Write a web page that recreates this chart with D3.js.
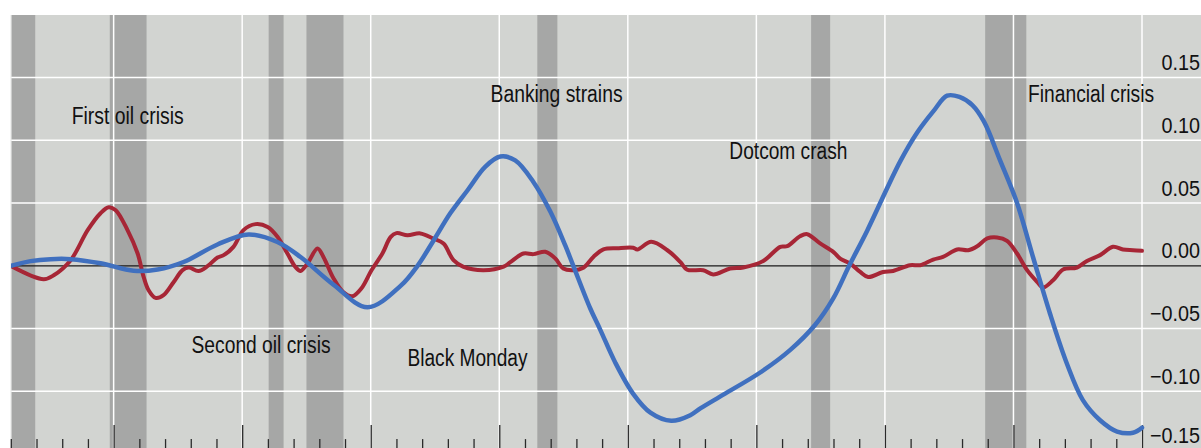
<!DOCTYPE html>
<html>
<head>
<meta charset="utf-8">
<script src="https://cdn.jsdelivr.net/npm/d3@7"></script>
<style>
  html, body { margin: 0; padding: 0; background: #fff; }
  svg { display: block; }
  text { font-family: "Liberation Sans", Arial, Helvetica, sans-serif; fill: #111; }
</style>
</head>
<body>
<svg id="chart" width="1201" height="448"></svg>
<script>
// ---------------- DATA ----------------
// Financial cycle (blue)
const finYears = [1970.0, 1970.77, 1971.55, 1972.33, 1973.49, 1974.78, 1975.71, 1976.72, 1978.04, 1979.25,
  1980.37, 1981.27, 1982.55, 1983.87, 1985.16, 1985.82, 1986.44, 1987.10, 1987.76, 1988.46,
  1989.04, 1989.62, 1990.32, 1990.99, 1991.57, 1991.88, 1992.54, 1992.93, 1993.51, 1994.21,
  1994.88, 1995.69, 1996.43, 1996.82, 1997.60, 1999.15, 2000.32, 2001.29, 2001.99, 2002.61,
  2003.31, 2004.59, 2005.25, 2005.88, 2006.42, 2006.90, 2007.40, 2007.85, 2008.48, 2009.14,
  2009.76, 2010.42, 2011.08, 2011.70, 2012.37, 2013.03, 2013.65, 2014.0];
const finValues = [0.000, 0.0037, 0.0053, 0.0053, 0.0020, -0.0040, -0.0030, 0.0030, 0.0170, 0.0250,
  0.0190, 0.0070, -0.0150, -0.0330, -0.0160, 0.0000, 0.0200, 0.0420, 0.0600, 0.0790,
  0.0870, 0.0840, 0.0670, 0.0430, 0.0160, 0.0000, -0.0340, -0.0510, -0.0770, -0.1020,
  -0.1170, -0.1235, -0.1190, -0.1136, -0.1040, -0.0850, -0.0670, -0.0470, -0.0260, 0.0000,
  0.0280, 0.0830, 0.1060, 0.1230, 0.1355, 0.1345, 0.1280, 0.1150, 0.0840, 0.0500,
  0.0070, -0.0380, -0.0780, -0.1070, -0.1230, -0.1320, -0.1330, -0.1290];

// Business cycle (red)
const busYears = [1970.0, 1971.28, 1971.67, 1972.33, 1972.99, 1973.49, 1973.81, 1974.08, 1974.54, 1974.93,
  1975.17, 1975.36, 1975.63, 1975.94, 1976.33, 1976.68, 1976.92, 1977.30, 1977.65, 1978.04,
  1978.28, 1978.66, 1979.05, 1979.52, 1979.99, 1980.38, 1980.76, 1981.07, 1981.27, 1981.54,
  1981.93, 1982.16, 1982.55, 1982.94, 1983.29, 1983.64, 1984.03, 1984.46, 1984.77, 1985.00,
  1985.43, 1985.93, 1986.44, 1986.83, 1987.22, 1987.61, 1988.39, 1989.17, 1989.43, 1989.94,
  1990.33, 1990.79, 1991.18, 1991.49, 1991.88, 1992.27, 1992.66, 1993.05, 1993.59, 1994.21,
  1994.37, 1994.91, 1995.54, 1996.04, 1996.31, 1996.93, 1997.32, 1997.98, 1998.49, 1999.27,
  1999.93, 2000.20, 2000.70, 2000.98, 2001.48, 2001.99, 2002.26, 2002.65, 2003.04, 2003.35,
  2003.93, 2004.32, 2004.98, 2005.37, 2005.88, 2006.26, 2006.81, 2007.24, 2007.59, 2007.98,
  2008.36, 2008.75, 2009.14, 2009.53, 2009.92, 2010.15, 2010.54, 2010.93, 2011.47, 2011.86,
  2012.37, 2012.87, 2013.26, 2013.65, 2014.0];
const busValues = [0.0000, -0.0107, -0.0075, 0.0045, 0.0284, 0.0419, 0.0467, 0.0443, 0.0284, 0.0100,
  -0.0091, -0.0195, -0.0256, -0.0234, -0.0131, -0.0035, -0.0014, -0.0041, -0.0003, 0.0066,
  0.0085, 0.0151, 0.0284, 0.0332, 0.0310, 0.0230, 0.0098, -0.0009, -0.0041, 0.0018,
  0.0138, 0.0071, -0.0099, -0.0211, -0.0242, -0.0179, -0.0035, 0.0100, 0.0228, 0.0260,
  0.0244, 0.0258, 0.0216, 0.0178, 0.0045, -0.0009, -0.0035, -0.0007, 0.0029, 0.0098,
  0.0093, 0.0112, 0.0058, -0.0022, -0.0035, -0.0015, 0.0071, 0.0130, 0.0140, 0.0144,
  0.0130, 0.0191, 0.0124, 0.0031, -0.0031, -0.0035, -0.0069, -0.0022, -0.0014, 0.0039,
  0.0151, 0.0156, 0.0236, 0.0252, 0.0178, 0.0111, 0.0058, 0.0018, -0.0049, -0.0089,
  -0.0049, -0.0041, 0.0005, 0.0005, 0.0050, 0.0071, 0.0130, 0.0124, 0.0156, 0.0218,
  0.0226, 0.0199, 0.0098, -0.0035, -0.0128, -0.0173, -0.0115, -0.0030, -0.0014, 0.0039,
  0.0085, 0.0151, 0.0130, 0.0124, 0.0119];

// Recession bands [start, end]
const recessionStart = [1970.0, 1973.85, 1980.03, 1981.5, 1990.48, 2001.13, 2007.9];
const recessionEnd   = [1970.95, 1975.28, 1980.61, 1982.94, 1991.26, 2001.87, 2009.5];

// Annotations
const annoText  = ["First oil crisis", "Second oil crisis", "Black Monday", "Banking strains", "Dotcom crash", "Financial crisis"];
const annoYear  = [1972.37, 1977.03, 1985.43, 1988.66, 1997.95, 2009.57];
const annoValue = [0.1129, -0.0697, -0.0797, 0.1305, 0.0850, 0.1305];
const annoWidth = [112, 139, 120, 132, 118, 126];

// Axis ticks
const yTicks = [0.15, 0.10, 0.05, 0.00, -0.05, -0.10, -0.15];
const yTickLabels = ["0.15", "0.10", "0.05", "0.00", "\u22120.05", "\u22120.10", "\u22120.15"];
const majorYears = [1974, 1979, 1984, 1989, 1994, 1999, 2004, 2009, 2014];
const minorYears = d3.range(1970, 2014).filter(y => !majorYears.includes(y));

// ---------------- LAYOUT ----------------
const W = 1201, H = 448;
const plotLeft = 11, plotTop = 15;
const svg = d3.select("#chart");

const x = d3.scaleLinear().domain([1970, 2014]).range([10.8, 1142]);
const y = d3.scaleLinear().domain([-0.15, 0.15]).range([454.1, 77.5]);

// clip for lines
svg.append("clipPath").attr("id", "plotclip").append("rect")
  .attr("x", plotLeft).attr("y", plotTop).attr("width", W - plotLeft).attr("height", H - plotTop);

// background
svg.append("rect").attr("x", plotLeft).attr("y", plotTop)
  .attr("width", W - plotLeft).attr("height", H - plotTop).attr("fill", "#d2d4d1");

// recession bands
svg.append("g").selectAll("rect").data(recessionStart).join("rect")
  .attr("x", (d) => Math.max(plotLeft, x(d)))
  .attr("width", (d, i) => x(recessionEnd[i]) - Math.max(plotLeft, x(d)))
  .attr("y", plotTop).attr("height", H - plotTop)
  .attr("fill", "#a6a7a6");

// horizontal gridlines
svg.append("g").selectAll("line").data(yTicks.filter(v => v !== 0)).join("line")
  .attr("x1", plotLeft).attr("x2", W)
  .attr("y1", d => y(d)).attr("y2", d => y(d))
  .attr("stroke", "#ffffff").attr("stroke-width", 1.5);

// vertical gridlines
svg.append("g").selectAll("line").data(majorYears).join("line")
  .attr("x1", d => x(d)).attr("x2", d => x(d))
  .attr("y1", plotTop).attr("y2", H)
  .attr("stroke", "#ffffff").attr("stroke-width", 1.5);

// left border line
svg.append("line").attr("x1", plotLeft).attr("x2", plotLeft).attr("y1", plotTop).attr("y2", H)
  .attr("stroke", "#e8e9e8").attr("stroke-width", 1.2);

// zero line
svg.append("line").attr("x1", plotLeft).attr("x2", W)
  .attr("y1", y(0)).attr("y2", y(0))
  .attr("stroke", "#1a1a1a").attr("stroke-width", 1.2);

// bottom ticks
const axisY = y(-0.15);
const majorAxis = d3.axisBottom(x).tickValues(majorYears).tickSize(-29).tickFormat("");
const minorAxis = d3.axisBottom(x).tickValues(minorYears).tickSize(-15).tickFormat("");
const gMaj = svg.append("g").attr("transform", `translate(0,${axisY})`).call(majorAxis);
const gMin = svg.append("g").attr("transform", `translate(0,${axisY})`).call(minorAxis);
[gMaj, gMin].forEach(g => {
  g.select(".domain").remove();
  g.selectAll(".tick line").attr("stroke", "#2a2a2a").attr("stroke-width", 1.3);
});

// lines
const busData = busYears.map((d, i) => [d, busValues[i]]);
const finData = finYears.map((d, i) => [d, finValues[i]]);

const lineBus = d3.line().x(d => x(d[0])).y(d => y(d[1])).curve(d3.curveCatmullRom.alpha(0.5));
const lineFin = d3.line().x(d => x(d[0])).y(d => y(d[1])).curve(d3.curveCatmullRom.alpha(0.5));

const gLines = svg.append("g").attr("clip-path", "url(#plotclip)");
gLines.append("path").datum(busData).attr("d", lineBus)
  .attr("fill", "none").attr("stroke", "#a72636").attr("stroke-width", 4)
  .attr("stroke-linejoin", "round").attr("stroke-linecap", "round");

gLines.append("path").datum(finData).attr("d", lineFin)
  .attr("fill", "none").attr("stroke", "#4070bf").attr("stroke-width", 4.5)
  .attr("stroke-linejoin", "round").attr("stroke-linecap", "round");

// annotations
svg.append("g").selectAll("text").data(annoText).join("text")
  .attr("x", (d, i) => x(annoYear[i]))
  .attr("y", (d, i) => y(annoValue[i]))
  .attr("font-size", 23)
  .attr("textLength", (d, i) => annoWidth[i])
  .attr("lengthAdjust", "spacingAndGlyphs")
  .text(d => d);

// y-axis labels (right)
svg.append("g").selectAll("text").data(yTicks).join("text")
  .attr("transform", d => `translate(1200,${Math.min(y(d) - 7.5, 443)}) scale(0.9,1)`)
  .attr("text-anchor", "end")
  .attr("font-size", 22)
  .text((d, i) => yTickLabels[i]);
</script>
</body>
</html>
